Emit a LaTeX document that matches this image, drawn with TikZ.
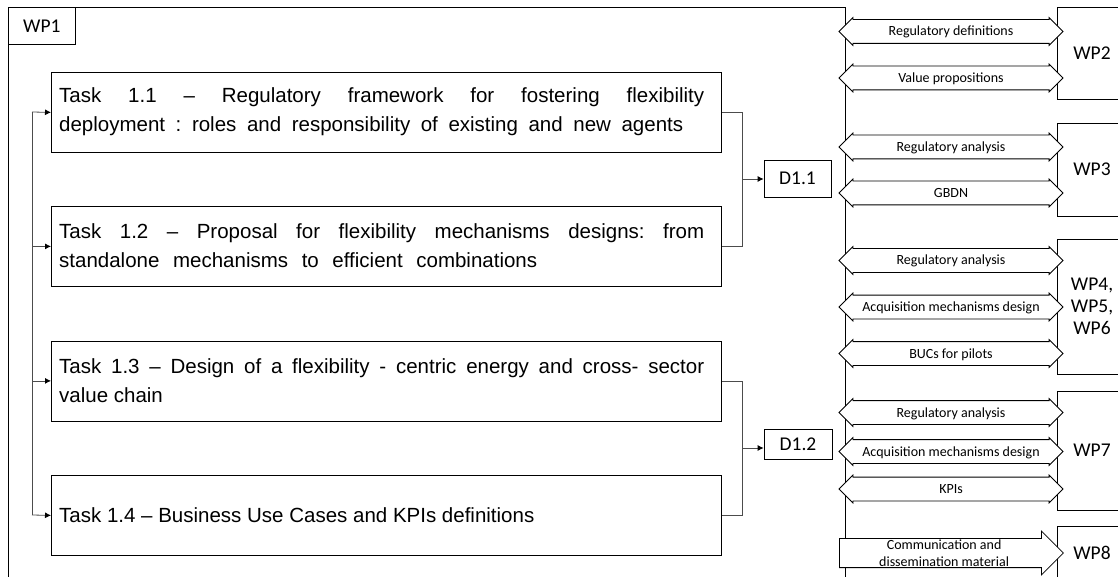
\documentclass[tikz,border=0pt]{standalone}
\usepackage{fontspec}
\setmainfont{Liberation Sans}
\newfontfamily\carl{Carlito}
\usetikzlibrary{arrows.meta,shapes.arrows}
\hbadness=10000
\frenchspacing
\begin{document}
\begin{tikzpicture}[x=1pt,y=-1pt,
  box/.style={draw=black, line width=0.8pt, inner sep=0pt, rectangle},
  conn/.style={draw=black!70, line width=0.8pt},
  tip/.style={conn, -{Latex[length=6pt,width=6pt,color=black]}},
  tasktext/.style={inner sep=0pt, text width=645pt, anchor=west, align=justify, font=\fontsize{20.5}{29}\selectfont},
  cfont/.style={font=\carl\fontsize{19.5}{22}\selectfont},
  dbl/.style={shape=double arrow, draw=black, line width=0.8pt, fill=white, double arrow head extend=2pt, double arrow tip angle=90, minimum height=224pt, minimum width=27pt, inner xsep=0pt, inner ysep=4pt, text height=12pt, text depth=3pt, font=\carl\fontsize{14}{17}\selectfont},
  sgl/.style={shape=single arrow, draw=black, line width=0.8pt, fill=white, single arrow head extend=7pt, single arrow tip angle=90, minimum height=224pt, minimum width=44pt, inner sep=0pt, align=center, font=\carl\fontsize{14}{17}\selectfont},
  ]
\useasboundingbox (0,0) rectangle (1118,577);
\clip (0,0) rectangle (1118,577);
% WP1 frame
\node[box, minimum width=837pt, minimum height=600pt, anchor=north west] (wp1frame) at (8,7) {};
\node[box, cfont, fill=white, minimum width=67pt, minimum height=37pt, anchor=north west] (wp1) at (8,7) {WP1};
% tasks
\node[box, minimum width=670pt, minimum height=80pt, anchor=north west] (t11) at (51,72) {};
\node[box, minimum width=670pt, minimum height=80pt, anchor=north west] (t12) at (51,206) {};
\node[box, minimum width=670pt, minimum height=80pt, anchor=north west] (t13) at (51,340.5) {};
\node[box, minimum width=670pt, minimum height=80pt, anchor=north west] (t14) at (51,475) {};
\node[tasktext] (t11x) at (59,112) {\parfillskip=21pt Task 1.1 -- Regulatory framework for fostering flexibility\linebreak deployment : roles and responsibility of existing and new agents\par};
\node[tasktext] (t12x) at (59,246) {\parfillskip=167pt Task 1.2 -- Proposal for flexibility mechanisms designs: from\linebreak standalone mechanisms to efficient combinations\par};
\node[tasktext] (t13x) at (59,380.5) {Task 1.3 -- Design of a flexibility - centric energy and cross- sector\linebreak value chain\par};
\node[tasktext] (t14x) at (59,515) {Task 1.4 -- Business Use Cases and KPIs definitions\par};
% deliverables
\node[box, cfont, minimum width=67pt, minimum height=37pt] (d11) at (797.5,178.5) {D1.1};
\node[box, cfont, minimum width=68pt, minimum height=30pt] (d12) at (798,444) {D1.2};
% connectors
\coordinate (lt) at (32,112);
\coordinate (lb) at (32,515);
\draw[conn] (lt) -- (lb);
\draw[tip] (lt) -- (t11.west);
\draw[tip] (lt |- t12.west) -- (t12.west);
\draw[tip] (lt |- t13.west) -- (t13.west);
\draw[tip] (lb) -- (t14.west);
\coordinate (j1) at (742,179);
\draw[conn] (t11.east) -| (j1) |- (t12.east);
\draw[tip] (j1) -- (j1 -| d11.west);
\coordinate (j2) at (742,448);
\draw[conn] (t13.east) -| (j2) |- (t14.east);
\draw[tip] (j2) -- (j2 -| d12.west);
% other WPs
\node[box, cfont, minimum width=70pt, minimum height=92pt] (wp2) at (1092,53) {WP2};
\node[box, cfont, minimum width=70pt, minimum height=93pt] (wp3) at (1092,169.5) {WP3};
\node[box, cfont, minimum width=70pt, minimum height=135pt, align=center] (wp456) at (1092,306.5) {WP4,\\WP5,\\WP6};
\node[box, cfont, minimum width=70pt, minimum height=119pt] (wp7) at (1092,450.5) {WP7};
\node[box, cfont, minimum width=70pt, minimum height=54pt] (wp8) at (1092,553) {WP8};
% exchange arrows
\node[dbl] (a1) at (951,31.5) {Regulatory definitions};
\node[dbl] (a2) at (951,78) {Value propositions};
\node[dbl] (a3) at (951,147) {Regulatory analysis};
\node[dbl] (a4) at (951,193) {GBDN};
\node[dbl] (a5) at (951,260.5) {Regulatory analysis};
\node[dbl] (a6) at (951,307) {Acquisition mechanisms design};
\node[dbl] (a7) at (951,353.5) {BUCs for pilots};
\node[dbl] (a8) at (951,412.5) {Regulatory analysis};
\node[dbl] (a9) at (951,451.5) {Acquisition mechanisms design};
\node[dbl] (a10) at (951,489) {KPIs};
\node[sgl, anchor=tail] (a11) at (839,553) {Communication and\\dissemination material};
\end{tikzpicture}
\end{document}
